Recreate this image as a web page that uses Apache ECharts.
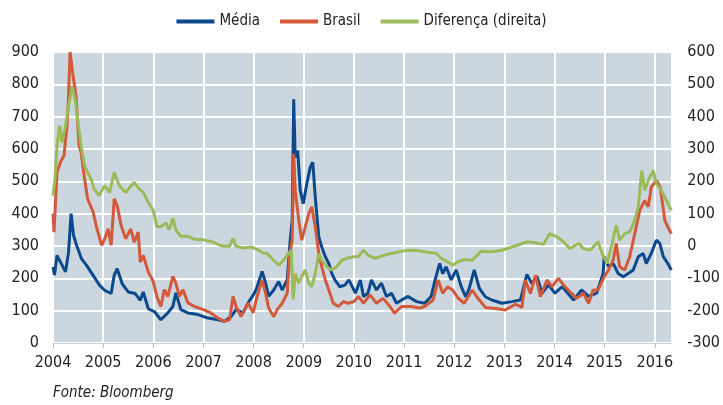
<!DOCTYPE html>
<html>
<head>
<meta charset="utf-8">
<script src="https://cdn.jsdelivr.net/npm/echarts@6/dist/echarts.min.js"></script>
<style>
  html, body { margin: 0; padding: 0; background: #fff; }
  #chart { width: 723px; height: 405px; }
</style>
</head>
<body>
<div id="chart"></div>
<script>
// anos (decimal) e valores
var mediaT = [2004.00,2004.03,2004.08,2004.15,2004.25,2004.31,2004.36,2004.41,2004.47,2004.57,2004.67,2004.80,2004.93,2005.03,2005.16,2005.22,2005.28,2005.38,2005.50,2005.64,2005.74,2005.80,2005.90,2006.03,2006.15,2006.29,2006.39,2006.45,2006.55,2006.69,2006.89,2007.09,2007.29,2007.42,2007.55,2007.65,2007.79,2007.89,2008.02,2008.07,2008.17,2008.24,2008.30,2008.40,2008.50,2008.57,2008.67,2008.73,2008.77,2008.80,2008.83,2008.88,2008.93,2008.99,2009.06,2009.13,2009.18,2009.23,2009.30,2009.36,2009.43,2009.50,2009.56,2009.62,2009.72,2009.82,2009.90,2010.03,2010.13,2010.19,2010.28,2010.35,2010.45,2010.55,2010.65,2010.75,2010.85,2010.95,2011.08,2011.25,2011.41,2011.54,2011.62,2011.71,2011.77,2011.84,2011.94,2012.04,2012.14,2012.23,2012.30,2012.40,2012.50,2012.62,2012.75,2012.95,2013.15,2013.32,2013.45,2013.55,2013.65,2013.75,2013.88,2014.01,2014.15,2014.21,2014.38,2014.54,2014.68,2014.84,2014.97,2014.99,2015.08,2015.17,2015.27,2015.37,2015.47,2015.57,2015.67,2015.77,2015.83,2015.93,2016.03,2016.10,2016.17,2016.26,2016.33];
var mediaV = [235,210,271,250,220,281,400,333,302,260,240,209,178,163,153,209,230,183,158,153,132,158,106,96,72,93,113,155,103,93,88,77,72,67,82,103,93,124,155,174,221,185,144,164,190,164,195,318,380,754,574,595,472,431,492,544,559,451,328,297,267,246,215,195,174,179,195,154,195,144,154,195,164,185,144,154,123,133,144,128,123,144,195,246,215,236,195,226,174,143,169,226,170,143,133,123,128,133,212,184,207,154,180,154,174,164,133,164,144,154,215,267,236,246,215,205,215,226,267,277,246,277,318,308,267,246,226];

var brasilT = [2004.00,2004.02,2004.08,2004.15,2004.22,2004.28,2004.31,2004.34,2004.40,2004.46,2004.52,2004.56,2004.63,2004.69,2004.80,2004.86,2004.97,2005.03,2005.10,2005.16,2005.22,2005.28,2005.36,2005.45,2005.55,2005.62,2005.70,2005.74,2005.80,2005.90,2006.00,2006.07,2006.15,2006.22,2006.29,2006.39,2006.45,2006.52,2006.59,2006.69,2006.82,2007.00,2007.15,2007.29,2007.42,2007.52,2007.59,2007.65,2007.75,2007.89,2007.99,2008.07,2008.17,2008.24,2008.30,2008.40,2008.47,2008.57,2008.67,2008.72,2008.77,2008.80,2008.83,2008.90,2008.96,2009.03,2009.10,2009.16,2009.23,2009.30,2009.36,2009.43,2009.50,2009.59,2009.69,2009.79,2009.89,2010.00,2010.09,2010.19,2010.32,2010.45,2010.58,2010.72,2010.81,2010.95,2011.14,2011.31,2011.41,2011.58,2011.68,2011.77,2011.87,2011.97,2012.07,2012.20,2012.36,2012.45,2012.62,2012.82,2013.02,2013.22,2013.35,2013.42,2013.52,2013.62,2013.72,2013.85,2013.95,2014.08,2014.21,2014.34,2014.44,2014.58,2014.68,2014.77,2014.87,2014.99,2015.08,2015.17,2015.23,2015.30,2015.40,2015.50,2015.60,2015.70,2015.80,2015.87,2015.93,2016.03,2016.11,2016.20,2016.26,2016.33];
var brasilV = [400,343,528,560,580,672,764,900,826,764,610,590,507,446,405,363,302,322,353,302,446,425,363,322,353,312,343,250,271,220,190,144,113,165,144,206,185,144,165,124,113,103,93,77,67,72,144,113,82,124,93,144,195,154,108,82,103,123,154,277,318,585,472,380,318,359,400,421,359,277,236,195,164,123,113,128,123,128,144,123,149,123,138,113,92,113,113,108,113,133,195,154,174,164,140,123,164,143,110,107,102,120,110,194,153,210,143,195,174,200,174,154,138,154,123,164,164,205,226,256,308,236,226,267,338,410,441,421,482,503,482,379,359,338];

var difT = [2004.00,2004.04,2004.08,2004.13,2004.18,2004.25,2004.31,2004.38,2004.44,2004.50,2004.56,2004.63,2004.69,2004.76,2004.82,2004.92,2005.03,2005.13,2005.22,2005.32,2005.45,2005.62,2005.72,2005.80,2005.90,2006.00,2006.07,2006.15,2006.25,2006.32,2006.39,2006.45,2006.55,2006.69,2006.82,2007.00,2007.15,2007.35,2007.52,2007.59,2007.65,2007.79,2007.95,2008.09,2008.19,2008.27,2008.40,2008.50,2008.60,2008.70,2008.75,2008.79,2008.83,2008.90,2008.96,2009.03,2009.10,2009.16,2009.23,2009.30,2009.36,2009.46,2009.56,2009.66,2009.76,2009.86,2009.99,2010.09,2010.19,2010.28,2010.42,2010.62,2010.81,2011.00,2011.21,2011.41,2011.64,2011.74,2011.87,2011.97,2012.07,2012.20,2012.36,2012.54,2012.75,2012.95,2013.15,2013.27,2013.45,2013.62,2013.78,2013.90,2014.05,2014.18,2014.31,2014.48,2014.58,2014.71,2014.87,2014.95,2015.05,2015.15,2015.23,2015.30,2015.40,2015.50,2015.60,2015.67,2015.74,2015.80,2015.87,2015.97,2016.03,2016.13,2016.23,2016.33];
var difV = [156,207,310,372,320,372,433,495,454,382,310,248,228,207,176,156,187,166,228,187,166,197,176,166,135,110,60,60,71,50,86,50,30,30,21,19,14,1,-1,24,-1,-6,-3,-12,-22,-23,-44,-59,-44,-23,-13,-165,-85,-115,-95,-74,-115,-126,-85,-23,-44,-64,-74,-64,-44,-38,-33,-33,-13,-28,-38,-28,-21,-15,-13,-18,-23,-38,-49,-60,-49,-42,-44,-16,-18,-13,-3,3,13,10,5,38,28,13,-8,8,-8,-13,13,-23,-54,8,64,18,38,44,79,121,233,172,203,233,192,172,141,110];

var anos = [2004,2005,2006,2007,2008,2009,2010,2011,2012,2013,2014,2015,2016];

function pares(t, v) {
  return t.map(function (x, i) { return [x, v[i]]; });
}

var fonte = "'Liberation Sans Narrow', 'DejaVu Sans Condensed', sans-serif";
var chart = echarts.init(document.getElementById('chart'));

chart.setOption({
  animation: false,
  textStyle: { fontFamily: fonte, color: '#222' },
  legend: {
    top: 9,
    left: 'center',
    icon: 'rect',
    itemWidth: 38,
    itemHeight: 4,
    itemGap: 20,
    textStyle: { fontFamily: fonte, fontSize: 15, color: '#222' },
    data: ['Média', 'Brasil', 'Diferença (direita)']
  },
  grid: {
    left: 53, right: 48, top: 52, bottom: 62,
    show: true, backgroundColor: '#ccd6df', borderWidth: 0
  },
  xAxis: {
    type: 'value',
    min: anos[0],
    max: 2016.33,
    interval: 1,
    axisLine: { show: true, lineStyle: { color: '#cfcfcf', width: 1 } },
    axisTick: { show: true, length: 5, lineStyle: { color: '#bbb' } },
    axisLabel: {
      fontSize: 16, color: '#222', margin: 12, showMaxLabel: false,
      formatter: function (v) { return anos.indexOf(v) >= 0 ? String(v) : ''; }
    },
    splitLine: { show: true, lineStyle: { color: '#fff', width: 2 } }
  },
  yAxis: [
    {
      type: 'value', min: 0, max: 900, interval: 100,
      axisLine: { show: false }, axisTick: { show: false },
      axisLabel: { fontSize: 16, color: '#222', margin: 14 },
      splitLine: { show: true, lineStyle: { color: '#fff', width: 2 } }
    },
    {
      type: 'value', min: -300, max: 600, interval: 100,
      axisLine: { show: false }, axisTick: { show: false },
      axisLabel: { fontSize: 16, color: '#222', margin: 16 },
      splitLine: { show: false }
    }
  ],
  series: [
    {
      name: 'Média', type: 'line', yAxisIndex: 0, showSymbol: false,
      data: pares(mediaT, mediaV),
      lineStyle: { color: '#0a4a8c', width: 3 }, itemStyle: { color: '#0a4a8c' }
    },
    {
      name: 'Brasil', type: 'line', yAxisIndex: 0, showSymbol: false,
      data: pares(brasilT, brasilV),
      lineStyle: { color: '#d2593a', width: 3 }, itemStyle: { color: '#d2593a' }
    },
    {
      name: 'Diferença (direita)', type: 'line', yAxisIndex: 1, showSymbol: false,
      data: pares(difT, difV),
      lineStyle: { color: '#9bbb59', width: 3 }, itemStyle: { color: '#9bbb59' }
    }
  ],
  graphic: [
    {
      type: 'text', left: 53, top: 386,
      style: { text: 'Fonte: Bloomberg', font: 'italic 15px ' + fonte, fill: '#222' }
    }
  ]
});
</script>
</body>
</html>
